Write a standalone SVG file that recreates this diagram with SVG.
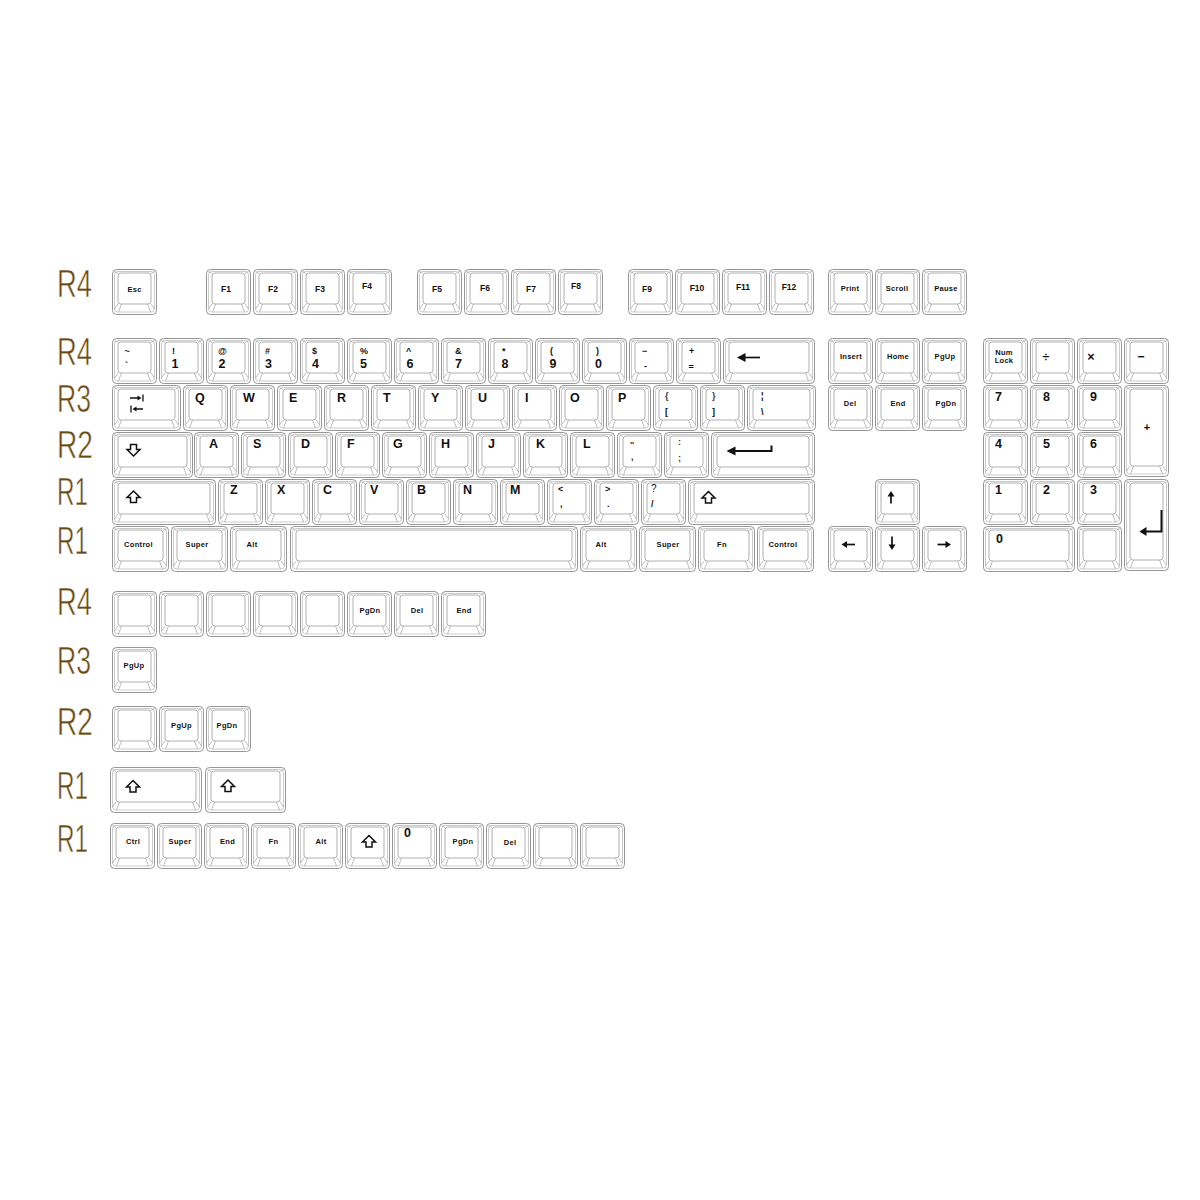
<svg xmlns="http://www.w3.org/2000/svg" xmlns:xlink="http://www.w3.org/1999/xlink" width="1200" height="1200" viewBox="0 0 1200 1200">
<style>
.o{fill:#fff;stroke:#8a8a8a;stroke-width:0.9}
.i{fill:none;stroke:#b4b4b4;stroke-width:0.7}
.f{fill:#fff;stroke:#9c9c9c;stroke-width:0.8}
.d{fill:none;stroke:#a0a0a0;stroke-width:0.7}
text{font-family:"Liberation Sans",Arial,sans-serif;fill:#111;font-weight:bold}
.rl{font-weight:normal;font-size:39px;fill:#6a4a12;stroke:#fff;stroke-width:0.6}
.m{font-size:7.5px;text-anchor:middle;letter-spacing:0.3px}
.fk{font-size:8.5px;text-anchor:middle}
.L{font-size:12.5px}
.s{font-size:9px}
.t{font-size:9px;fill:#333}
.a{fill:none;stroke:#111;stroke-width:1.7}
.h{fill:none;stroke:#111;stroke-width:1.5;stroke-linejoin:miter}
.ah{fill:#111}
</style>
<defs>
<g id="k1"><rect class="o" x="0.5" y="0.5" width="44" height="45" rx="4"/><rect class="i" x="2.5" y="2.5" width="40" height="40.5" rx="3"/><rect class="f" x="6" y="4" width="33" height="31" rx="3"/><path class="d" d="M2.5 2.5L6 4.5M42.5 2.5L39 4.5M6 35L2.5 40M9.5 35L6.5 43M39 35L42.5 40M35.5 35L38.5 43"/></g>
<g id="k125"><rect class="o" x="0.5" y="0.5" width="56" height="45" rx="4"/><rect class="i" x="2.5" y="2.5" width="52" height="40.5" rx="3"/><rect class="f" x="6" y="4" width="45" height="31" rx="3"/><path class="d" d="M2.5 2.5L6 4.5M54.5 2.5L51 4.5M6 35L2.5 40M9.5 35L6.5 43M51 35L54.5 40M47.5 35L50.5 43"/></g>
<g id="k15"><rect class="o" x="0.5" y="0.5" width="68" height="45" rx="4"/><rect class="i" x="2.5" y="2.5" width="64" height="40.5" rx="3"/><rect class="f" x="6" y="4" width="57" height="31" rx="3"/><path class="d" d="M2.5 2.5L6 4.5M66.5 2.5L63 4.5M6 35L2.5 40M9.5 35L6.5 43M63 35L66.5 40M59.5 35L62.5 43"/></g>
<g id="k175"><rect class="o" x="0.5" y="0.5" width="80" height="45" rx="4"/><rect class="i" x="2.5" y="2.5" width="76" height="40.5" rx="3"/><rect class="f" x="6" y="4" width="69" height="31" rx="3"/><path class="d" d="M2.5 2.5L6 4.5M78.5 2.5L75 4.5M6 35L2.5 40M9.5 35L6.5 43M75 35L78.5 40M71.5 35L74.5 43"/></g>
<g id="k2"><rect class="o" x="0.5" y="0.5" width="91" height="45" rx="4"/><rect class="i" x="2.5" y="2.5" width="87" height="40.5" rx="3"/><rect class="f" x="6" y="4" width="80" height="31" rx="3"/><path class="d" d="M2.5 2.5L6 4.5M89.5 2.5L86 4.5M6 35L2.5 40M9.5 35L6.5 43M86 35L89.5 40M82.5 35L85.5 43"/></g>
<g id="k225"><rect class="o" x="0.5" y="0.5" width="103" height="45" rx="4"/><rect class="i" x="2.5" y="2.5" width="99" height="40.5" rx="3"/><rect class="f" x="6" y="4" width="92" height="31" rx="3"/><path class="d" d="M2.5 2.5L6 4.5M101.5 2.5L98 4.5M6 35L2.5 40M9.5 35L6.5 43M98 35L101.5 40M94.5 35L97.5 43"/></g>
<g id="k275"><rect class="o" x="0.5" y="0.5" width="126" height="45" rx="4"/><rect class="i" x="2.5" y="2.5" width="122" height="40.5" rx="3"/><rect class="f" x="6" y="4" width="115" height="31" rx="3"/><path class="d" d="M2.5 2.5L6 4.5M124.5 2.5L121 4.5M6 35L2.5 40M9.5 35L6.5 43M121 35L124.5 40M117.5 35L120.5 43"/></g>
<g id="ksp"><rect class="o" x="0.5" y="0.5" width="287" height="45" rx="4"/><rect class="i" x="2.5" y="2.5" width="283" height="40.5" rx="3"/><rect class="f" x="6" y="4" width="276" height="31" rx="3"/><path class="d" d="M2.5 2.5L6 4.5M285.5 2.5L282 4.5M6 35L2.5 40M9.5 35L6.5 43M282 35L285.5 40M278.5 35L281.5 43"/></g>
<g id="ktall"><rect class="o" x="0.5" y="0.5" width="44" height="91" rx="4"/><rect class="i" x="2.5" y="2.5" width="40" height="86.5" rx="3"/><rect class="f" x="6" y="4" width="33" height="77" rx="3"/><path class="d" d="M2.5 2.5L6 4.5M42.5 2.5L39 4.5M6 81L2.5 86M9.5 81L6.5 89M39 81L42.5 86M35.5 81L38.5 89"/></g>
<path id="up" class="h" d="M0 -6L6.5 0.5H3V5.5H-3V0.5H-6.5Z"/>
<path id="dn" class="h" d="M0 6L6.5 -0.5H3V-5.5H-3V-0.5H-6.5Z"/>
</defs>
<rect width="1200" height="1200" fill="#fff"/>

<g id="row-labels">
<text class="rl" x="57" y="297" textLength="35" lengthAdjust="spacingAndGlyphs">R4</text>
<text class="rl" x="57" y="365" textLength="35" lengthAdjust="spacingAndGlyphs">R4</text>
<text class="rl" x="57" y="412" textLength="34" lengthAdjust="spacingAndGlyphs">R3</text>
<text class="rl" x="57" y="458" textLength="36" lengthAdjust="spacingAndGlyphs">R2</text>
<text class="rl" x="57" y="505" textLength="31" lengthAdjust="spacingAndGlyphs">R1</text>
<text class="rl" x="57" y="554" textLength="31" lengthAdjust="spacingAndGlyphs">R1</text>
<text class="rl" x="57" y="615" textLength="35" lengthAdjust="spacingAndGlyphs">R4</text>
<text class="rl" x="57" y="674" textLength="34" lengthAdjust="spacingAndGlyphs">R3</text>
<text class="rl" x="57" y="735" textLength="36" lengthAdjust="spacingAndGlyphs">R2</text>
<text class="rl" x="57" y="799" textLength="31" lengthAdjust="spacingAndGlyphs">R1</text>
<text class="rl" x="57" y="852" textLength="31" lengthAdjust="spacingAndGlyphs">R1</text>
</g>

<!-- Function row -->
<g id="key-esc"><use href="#k1" x="112" y="269"/><text class="m" x="134.5" y="292">Esc</text></g>
<g id="key-f1"><use href="#k1" x="206" y="269"/><text class="fk" x="226" y="292">F1</text></g>
<g id="key-f2"><use href="#k1" x="253" y="269"/><text class="fk" x="273" y="292">F2</text></g>
<g id="key-f3"><use href="#k1" x="300" y="269"/><text class="fk" x="320" y="292">F3</text></g>
<g id="key-f4"><use href="#k1" x="347" y="269"/><text class="fk" x="367" y="289">F4</text></g>
<g id="key-f5"><use href="#k1" x="417" y="269"/><text class="fk" x="437" y="292">F5</text></g>
<g id="key-f6"><use href="#k1" x="464" y="269"/><text class="fk" x="485" y="290.5">F6</text></g>
<g id="key-f7"><use href="#k1" x="511" y="269"/><text class="fk" x="531" y="292">F7</text></g>
<g id="key-f8"><use href="#k1" x="558" y="269"/><text class="fk" x="576" y="289">F8</text></g>
<g id="key-f9"><use href="#k1" x="628" y="269"/><text class="fk" x="647" y="292">F9</text></g>
<g id="key-f10"><use href="#k1" x="675" y="269"/><text class="fk" x="697" y="290.5">F10</text></g>
<g id="key-f11"><use href="#k1" x="722" y="269"/><text class="fk" x="743" y="289.5">F11</text></g>
<g id="key-f12"><use href="#k1" x="769" y="269"/><text class="fk" x="789" y="290">F12</text></g>
<g id="key-print"><use href="#k1" x="828" y="269"/><text class="m" x="850" y="291">Print</text></g>
<g id="key-scroll"><use href="#k1" x="875" y="269"/><text class="m" x="897" y="291">Scroll</text></g>
<g id="key-pause"><use href="#k1" x="922" y="269"/><text class="m" x="946" y="291">Pause</text></g>

<!-- Number row -->
<g id="key-grave"><use href="#k1" x="112" y="338"/><text class="s" x="124.5" y="354">~</text><text class="s" x="125" y="368">`</text></g>
<g id="key-1"><use href="#k1" x="159" y="338"/><text class="s" x="172" y="354">!</text><text class="L" x="171.5" y="368">1</text></g>
<g id="key-2"><use href="#k1" x="206" y="338"/><text class="s" x="218" y="354">@</text><text class="L" x="218.5" y="368">2</text></g>
<g id="key-3"><use href="#k1" x="253" y="338"/><text class="s" x="265" y="354">#</text><text class="L" x="265" y="368">3</text></g>
<g id="key-4"><use href="#k1" x="300" y="338"/><text class="s" x="312" y="354">$</text><text class="L" x="312" y="368">4</text></g>
<g id="key-5"><use href="#k1" x="347" y="338"/><text class="s" x="360" y="354">%</text><text class="L" x="360" y="368">5</text></g>
<g id="key-6"><use href="#k1" x="394" y="338"/><text class="s" x="406" y="354">^</text><text class="L" x="406.5" y="368">6</text></g>
<g id="key-7"><use href="#k1" x="441" y="338"/><text class="s" x="455" y="354">&amp;</text><text class="L" x="455" y="368">7</text></g>
<g id="key-8"><use href="#k1" x="488" y="338"/><text class="s" x="502" y="354">*</text><text class="L" x="501.5" y="368">8</text></g>
<g id="key-9"><use href="#k1" x="535" y="338"/><text class="s" x="550" y="354">(</text><text class="L" x="549.5" y="368">9</text></g>
<g id="key-0"><use href="#k1" x="582" y="338"/><text class="s" x="596" y="354">)</text><text class="L" x="595" y="368">0</text></g>
<g id="key-minus"><use href="#k1" x="629" y="338"/><text class="s" x="642" y="354">−</text><text class="s" x="644" y="369">-</text></g>
<g id="key-equal"><use href="#k1" x="676" y="338"/><text class="s" x="689" y="354">+</text><text class="s" x="688.5" y="370">=</text></g>
<g id="key-backspace"><use href="#k2" x="723" y="338"/><path class="a" d="M743 357.5H760"/><path class="ah" d="M737 357.5L745.5 353V362Z"/></g>
<g id="key-insert"><use href="#k1" x="828" y="338"/><text class="m" x="851" y="359">Insert</text></g>
<g id="key-home"><use href="#k1" x="875" y="338"/><text class="m" x="898" y="359">Home</text></g>
<g id="key-pgup"><use href="#k1" x="922" y="338"/><text class="m" x="945" y="359">PgUp</text></g>
<g id="key-numlock"><use href="#k1" x="983" y="338"/><text class="m" x="1004" y="354.5">Num</text><text class="m" x="1004" y="363">Lock</text></g>
<g id="key-divide"><use href="#k1" x="1030" y="338"/><text class="L" x="1046" y="361" text-anchor="middle" font-weight="normal">÷</text></g>
<g id="key-multiply"><use href="#k1" x="1077" y="338"/><text class="L" x="1091" y="361" text-anchor="middle" font-weight="normal">×</text></g>
<g id="key-subtract"><use href="#k1" x="1124" y="338"/><text class="L" x="1141" y="361" text-anchor="middle">−</text></g>

<!-- Q row -->
<g id="key-tab"><use href="#k15" x="112" y="385"/><path class="a" style="stroke-width:1.3" d="M130 398H139M143 394.5V401.5M131 405.5V412.5M134 409H143"/><path class="ah" d="M141.5 398L137.5 395.5V400.5Z M132.5 409L136.5 406.5V411.5Z"/></g>
<g id="key-q"><use href="#k1" x="183" y="385"/><text class="L" x="195" y="402">Q</text></g>
<g id="key-w"><use href="#k1" x="230" y="385"/><text class="L" x="243" y="402">W</text></g>
<g id="key-e"><use href="#k1" x="277" y="385"/><text class="L" x="289" y="402">E</text></g>
<g id="key-r"><use href="#k1" x="324" y="385"/><text class="L" x="337" y="402">R</text></g>
<g id="key-t"><use href="#k1" x="371" y="385"/><text class="L" x="383" y="402">T</text></g>
<g id="key-y"><use href="#k1" x="418" y="385"/><text class="L" x="431" y="402">Y</text></g>
<g id="key-u"><use href="#k1" x="465" y="385"/><text class="L" x="478" y="402">U</text></g>
<g id="key-i"><use href="#k1" x="512" y="385"/><text class="L" x="525" y="402">I</text></g>
<g id="key-o"><use href="#k1" x="559" y="385"/><text class="L" x="570" y="402">O</text></g>
<g id="key-p"><use href="#k1" x="606" y="385"/><text class="L" x="618" y="402">P</text></g>
<g id="key-lbracket"><use href="#k1" x="653" y="385"/><text class="t" x="665" y="399">{</text><text class="s" x="665" y="415">[</text></g>
<g id="key-rbracket"><use href="#k1" x="700" y="385"/><text class="t" x="712" y="399">}</text><text class="s" x="712" y="415">]</text></g>
<g id="key-backslash"><use href="#k15" x="747" y="385"/><text class="s" x="761" y="399">¦</text><text class="s" x="761" y="415">\</text></g>
<g id="key-del"><use href="#k1" x="828" y="385"/><text class="m" x="850" y="406">Del</text></g>
<g id="key-end"><use href="#k1" x="875" y="385"/><text class="m" x="898" y="406">End</text></g>
<g id="key-pgdn"><use href="#k1" x="922" y="385"/><text class="m" x="946" y="406">PgDn</text></g>
<g id="key-kp7"><use href="#k1" x="983" y="385"/><text class="L" x="995" y="401">7</text></g>
<g id="key-kp8"><use href="#k1" x="1030" y="385"/><text class="L" x="1043" y="401">8</text></g>
<g id="key-kp9"><use href="#k1" x="1077" y="385"/><text class="L" x="1090" y="401">9</text></g>
<g id="key-kpplus"><use href="#ktall" x="1124" y="385"/><text class="L" x="1147" y="431" text-anchor="middle" style="font-size:11px">+</text></g>

<!-- A row -->
<g id="key-caps"><use href="#k175" x="112" y="432"/><use href="#dn" x="133.5" y="450"/></g>
<g id="key-a"><use href="#k1" x="194" y="432"/><text class="L" x="209" y="448">A</text></g>
<g id="key-s"><use href="#k1" x="241" y="432"/><text class="L" x="253" y="448">S</text></g>
<g id="key-d"><use href="#k1" x="288" y="432"/><text class="L" x="301" y="448">D</text></g>
<g id="key-f"><use href="#k1" x="335" y="432"/><text class="L" x="347" y="448">F</text></g>
<g id="key-g"><use href="#k1" x="382" y="432"/><text class="L" x="393" y="448">G</text></g>
<g id="key-h"><use href="#k1" x="429" y="432"/><text class="L" x="441" y="448">H</text></g>
<g id="key-j"><use href="#k1" x="476" y="432"/><text class="L" x="488" y="448">J</text></g>
<g id="key-k"><use href="#k1" x="523" y="432"/><text class="L" x="536" y="448">K</text></g>
<g id="key-l"><use href="#k1" x="570" y="432"/><text class="L" x="583" y="448">L</text></g>
<g id="key-quote"><use href="#k1" x="617" y="432"/><text class="t" x="630" y="448">"</text><text class="t" x="631" y="460">,</text></g>
<g id="key-semicolon"><use href="#k1" x="664" y="432"/><text class="t" x="678" y="445">:</text><text class="t" x="678" y="461">;</text></g>
<g id="key-enter"><use href="#k225" x="711" y="432"/><path class="a" style="stroke-width:2" d="M733 451H771.5V445.5"/><path class="ah" d="M726.5 451L735.5 446.5V455.5Z"/></g>
<g id="key-kp4"><use href="#k1" x="983" y="432"/><text class="L" x="995" y="448">4</text></g>
<g id="key-kp5"><use href="#k1" x="1030" y="432"/><text class="L" x="1043" y="448">5</text></g>
<g id="key-kp6"><use href="#k1" x="1077" y="432"/><text class="L" x="1090" y="448">6</text></g>

<!-- Z row -->
<g id="key-lshift"><use href="#k225" x="112" y="479"/><use href="#up" x="133.5" y="497"/></g>
<g id="key-z"><use href="#k1" x="218" y="479"/><text class="L" x="230" y="494">Z</text></g>
<g id="key-x"><use href="#k1" x="265" y="479"/><text class="L" x="277" y="494">X</text></g>
<g id="key-c"><use href="#k1" x="312" y="479"/><text class="L" x="323" y="494">C</text></g>
<g id="key-v"><use href="#k1" x="359" y="479"/><text class="L" x="370" y="494">V</text></g>
<g id="key-b"><use href="#k1" x="406" y="479"/><text class="L" x="417" y="494">B</text></g>
<g id="key-n"><use href="#k1" x="453" y="479"/><text class="L" x="463" y="494">N</text></g>
<g id="key-m"><use href="#k1" x="500" y="479"/><text class="L" x="510" y="494">M</text></g>
<g id="key-comma"><use href="#k1" x="547" y="479"/><text class="s" x="558" y="492">&lt;</text><text class="s" x="560" y="507">,</text></g>
<g id="key-period"><use href="#k1" x="594" y="479"/><text class="s" x="605" y="492">&gt;</text><text class="s" x="607" y="507">.</text></g>
<g id="key-slash"><use href="#k1" x="641" y="479"/><text class="s" x="651" y="492" style="font-weight:normal;font-size:10px">?</text><text class="s" x="651" y="507">/</text></g>
<g id="key-rshift"><use href="#k275" x="688" y="479"/><use href="#up" x="708.5" y="497.5"/></g>
<g id="key-up"><use href="#k1" x="875" y="479"/><path class="a" d="M891 495V503.5"/><path class="ah" d="M891 491L887.5 496.5H894.5Z"/></g>
<g id="key-kp1"><use href="#k1" x="983" y="479"/><text class="L" x="995" y="494">1</text></g>
<g id="key-kp2"><use href="#k1" x="1030" y="479"/><text class="L" x="1043" y="494">2</text></g>
<g id="key-kp3"><use href="#k1" x="1077" y="479"/><text class="L" x="1090" y="494">3</text></g>
<g id="key-kpenter"><use href="#ktall" x="1124" y="479"/><path class="a" style="stroke-width:2" d="M1161.5 510V531.5H1145"/><path class="ah" d="M1139.5 531.5L1146.5 527V536Z"/></g>

<!-- Bottom row -->
<g id="key-lctrl"><use href="#k125" x="112" y="526"/><text class="m" x="138.5" y="547">Control</text></g>
<g id="key-lsuper"><use href="#k125" x="171" y="526"/><text class="m" x="197" y="547">Super</text></g>
<g id="key-lalt"><use href="#k125" x="230" y="526"/><text class="m" x="252" y="547">Alt</text></g>
<g id="key-space"><use href="#ksp" x="290" y="526"/></g>
<g id="key-ralt"><use href="#k125" x="580" y="526"/><text class="m" x="601" y="547">Alt</text></g>
<g id="key-rsuper"><use href="#k125" x="639" y="526"/><text class="m" x="668" y="547">Super</text></g>
<g id="key-fn"><use href="#k125" x="698" y="526"/><text class="m" x="722" y="547">Fn</text></g>
<g id="key-rctrl"><use href="#k125" x="757" y="526"/><text class="m" x="783" y="547">Control</text></g>
<g id="key-left"><use href="#k1" x="828" y="526"/><path class="a" d="M845.5 544.5H855"/><path class="ah" d="M841.5 544.5L847 541V548Z"/></g>
<g id="key-down"><use href="#k1" x="875" y="526"/><path class="a" d="M892 536.5V546"/><path class="ah" d="M892 550L888.5 544.5H895.5Z"/></g>
<g id="key-right"><use href="#k1" x="922" y="526"/><path class="a" d="M937.5 544.5H947"/><path class="ah" d="M951 544.5L945.5 541V548Z"/></g>
<g id="key-kp0"><use href="#k2" x="983" y="526"/><text class="L" x="996" y="543">0</text></g>
<g id="key-kpdot"><use href="#k1" x="1077" y="526"/></g>

<!-- Extra R4 -->
<g id="x4-1"><use href="#k1" x="112" y="591"/></g>
<g id="x4-2"><use href="#k1" x="159" y="591"/></g>
<g id="x4-3"><use href="#k1" x="206" y="591"/></g>
<g id="x4-4"><use href="#k1" x="253" y="591"/></g>
<g id="x4-5"><use href="#k1" x="300" y="591"/></g>
<g id="x4-pgdn"><use href="#k1" x="347" y="591"/><text class="m" x="370" y="612.5">PgDn</text></g>
<g id="x4-del"><use href="#k1" x="394" y="591"/><text class="m" x="417" y="612.5">Del</text></g>
<g id="x4-end"><use href="#k1" x="441" y="591"/><text class="m" x="464" y="612.5">End</text></g>

<!-- Extra R3 -->
<g id="x3-pgup"><use href="#k1" x="112" y="647"/><text class="m" x="134" y="668">PgUp</text></g>

<!-- Extra R2 -->
<g id="x2-1"><use href="#k1" x="112" y="706"/></g>
<g id="x2-pgup"><use href="#k1" x="159" y="706"/><text class="m" x="181.5" y="727.5">PgUp</text></g>
<g id="x2-pgdn"><use href="#k1" x="206" y="706"/><text class="m" x="227" y="727.5">PgDn</text></g>

<!-- Extra R1 shifts -->
<g id="x1-shift2"><use href="#k2" x="110" y="767"/><use href="#up" x="133" y="786.5"/></g>
<g id="x1-shift175"><use href="#k175" x="205" y="767"/><use href="#up" x="228" y="786"/></g>

<!-- Extra R1 row -->
<g id="x0-ctrl"><use href="#k1" x="110" y="823"/><text class="m" x="133" y="843.5">Ctrl</text></g>
<g id="x0-super"><use href="#k1" x="157" y="823"/><text class="m" x="180" y="843.5">Super</text></g>
<g id="x0-end"><use href="#k1" x="204" y="823"/><text class="m" x="227.5" y="843.5">End</text></g>
<g id="x0-fn"><use href="#k1" x="251" y="823"/><text class="m" x="273.5" y="843.5">Fn</text></g>
<g id="x0-alt"><use href="#k1" x="298" y="823"/><text class="m" x="321" y="843.5">Alt</text></g>
<g id="x0-shift"><use href="#k1" x="345" y="823"/><use href="#up" x="369" y="841.5"/></g>
<g id="x0-zero"><use href="#k1" x="392" y="823"/><text class="L" x="404" y="837">0</text></g>
<g id="x0-pgdn"><use href="#k1" x="439" y="823"/><text class="m" x="463" y="843.5">PgDn</text></g>
<g id="x0-del"><use href="#k1" x="486" y="823"/><text class="m" x="510" y="844.5">Del</text></g>
<g id="x0-b1"><use href="#k1" x="533" y="823"/></g>
<g id="x0-b2"><use href="#k1" x="580" y="823"/></g>
</svg>
